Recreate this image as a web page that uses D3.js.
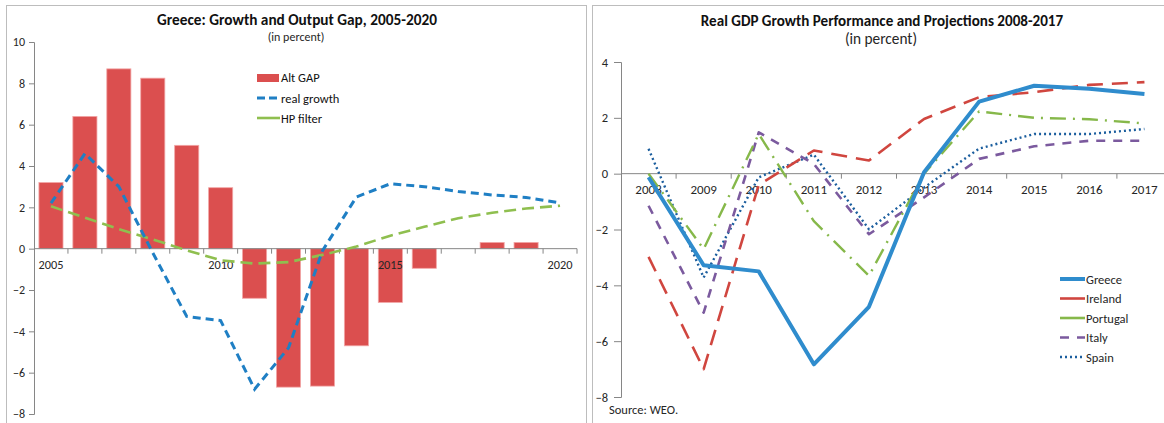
<!DOCTYPE html>
<html>
<head>
<meta charset="utf-8">
<script src="https://cdn.jsdelivr.net/npm/d3@7"></script>
<style>
  html, body { margin: 0; padding: 0; background: #fff; }
  svg { display: block; font-family: Carlito, Calibri, Lato, sans-serif; }
</style>
</head>
<body>
<svg id="chart" width="1164" height="423"></svg>
<script>
// ---------- Left chart data ----------
const yearsLeft = ["2005","2006","2007","2008","2009","2010","2011","2012","2013","2014","2015","2016","2017","2018","2019","2020"];
const altGap     = [3.2, 6.4, 8.7, 8.25, 5.0, 2.95, -2.4, -6.7, -6.65, -4.7, -2.6, -0.95, null, 0.3, 0.3, null];
const realGrowth = [2.2, 4.6, 3.0, -0.2, -3.28, -3.48, -6.8, -4.8, -0.1, 2.5, 3.14, 3.0, 2.77, 2.6, 2.48, 2.22];
const hpFilter   = [2.05, 1.5, 0.95, 0.45, -0.08, -0.56, -0.72, -0.65, -0.3, 0.1, 0.63, 1.06, 1.47, 1.74, 1.94, 2.08];
const leftXLabels = ["2005","2010","2015","2020"];
const leftYTicks = [-8,-6,-4,-2,0,2,4,6,8,10];

// ---------- Right chart data ----------
const yearsRight = ["2008","2009","2010","2011","2012","2013","2014","2015","2016","2017"];
const greece   = [-0.13, -3.28, -3.5, -6.83, -4.77, 0.05, 2.58, 3.15, 3.04, 2.85];
const ireland  = [-2.98, -7.0, -0.4, 0.83, 0.47, 1.96, 2.74, 2.92, 3.18, 3.28];
const portugal = [0.0, -2.7, 1.42, -1.7, -3.66, 0.0, 2.23, 2.0, 1.95, 1.8];
const italy    = [-1.15, -4.98, 1.48, 0.35, -2.17, -0.85, 0.53, 0.98, 1.18, 1.18];
const spain    = [0.89, -3.72, -0.13, 0.68, -1.99, -0.5, 0.9, 1.42, 1.42, 1.6];
const rightYTicks = [-8,-6,-4,-2,0,2,4];

const svg = d3.select("#chart");
const AXIS = "#868686";
const TXT = "#262626";
const FONT = "Carlito, Calibri, Lato, sans-serif";

// panel borders
svg.append("rect").attr("x", 6.5).attr("y", 5.5).attr("width", 580).attr("height", 430)
  .attr("fill", "none").attr("stroke", "#bdbdbd");
svg.append("rect").attr("x", 592.5).attr("y", 5.5).attr("width", 600).attr("height", 430)
  .attr("fill", "none").attr("stroke", "#bdbdbd");

// ================= LEFT CHART =================
{
  const g = svg.append("g");
  const x = d3.scaleBand().domain(yearsLeft).range([34, 577]).padding(0);
  const y = d3.scaleLinear().domain([-8, 10]).range([414, 42]);
  const bw = x.bandwidth();
  const barW = bw * 0.71;

  // title
  g.append("text").attr("x", 297).attr("y", 25).attr("text-anchor", "middle")
    .attr("font-weight", "bold").attr("font-size", 15.3).attr("fill", "#111")
    .text("Greece: Growth and Output Gap, 2005-2020");
  g.append("text").attr("x", 296).attr("y", 40.5).attr("text-anchor", "middle")
    .attr("font-size", 12).attr("fill", TXT).text("(in percent)");

  // bars
  const barData = yearsLeft.map((d, i) => ({ year: d, v: altGap[i] })).filter(d => d.v !== null);
  g.selectAll("rect.bar").data(barData).enter().append("rect")
    .attr("class", "bar")
    .attr("x", d => x(d.year) + (bw - barW) / 2)
    .attr("width", barW)
    .attr("y", d => y(Math.max(0, d.v)))
    .attr("height", d => Math.abs(y(d.v) - y(0)))
    .attr("fill", "#db4f4f")
    .attr("stroke", "#f2a6a6").attr("stroke-width", 0.8);

  // y axis
  const yAxis = d3.axisLeft(y).tickValues(leftYTicks).tickSize(5).tickPadding(4).tickFormat(d3.format("d"));
  const ya = g.append("g").attr("transform", "translate(34,0)").call(yAxis);
  ya.select(".domain").attr("stroke", AXIS);
  ya.selectAll(".tick line").attr("stroke", AXIS);
  ya.selectAll(".tick text").attr("font-size", 12).attr("fill", TXT).attr("font-family", FONT);

  // x axis at 0
  const xa = g.append("g").attr("transform", `translate(0,${y(0)})`);
  xa.append("line").attr("x1", 34).attr("x2", 577).attr("stroke", AXIS);
  xa.selectAll("line.tk").data(yearsLeft).enter().append("line").attr("class", "tk")
    .attr("x1", d => x(d) + bw).attr("x2", d => x(d) + bw).attr("y1", 0).attr("y2", 5)
    .attr("stroke", AXIS);
  xa.selectAll("text").data(leftXLabels).enter().append("text")
    .attr("x", d => x(d) + bw / 2).attr("y", 20).attr("text-anchor", "middle")
    .attr("font-size", 12.3).attr("fill", TXT).text(d => d);

  // lines
  const line = d3.line().x((d, i) => x(yearsLeft[i]) + bw / 2).y(d => y(d));
  g.append("path").datum(hpFilter).attr("d", line).attr("fill", "none")
    .attr("stroke", "#8fbf4f").attr("stroke-width", 2.6).attr("stroke-dasharray", "12,6");
  g.append("path").datum(realGrowth).attr("d", line).attr("fill", "none")
    .attr("stroke", "#1f7fc4").attr("stroke-width", 3).attr("stroke-dasharray", "8,5");

  // legend
  const lg = g.append("g");
  lg.append("rect").attr("x", 257).attr("y", 74).attr("width", 22).attr("height", 8).attr("fill", "#db4f4f");
  lg.append("text").attr("x", 281).attr("y", 82).attr("font-size", 12.5).attr("fill", "#111").text("Alt GAP");
  lg.append("line").attr("x1", 257).attr("x2", 280).attr("y1", 98).attr("y2", 98)
    .attr("stroke", "#1f7fc4").attr("stroke-width", 3).attr("stroke-dasharray", "8,4");
  lg.append("text").attr("x", 281).attr("y", 102.5).attr("font-size", 12.5).attr("fill", "#111").text("real growth");
  lg.append("line").attr("x1", 257).attr("x2", 280).attr("y1", 118).attr("y2", 118)
    .attr("stroke", "#8fbf4f").attr("stroke-width", 2.6);
  lg.append("text").attr("x", 281).attr("y", 122.5).attr("font-size", 12.5).attr("fill", "#111").text("HP filter");
}

// ================= RIGHT CHART =================
{
  const g = svg.append("g");
  const x = d3.scaleBand().domain(yearsRight).range([621, 1172]).padding(0);
  const bw = x.bandwidth();
  const y = d3.scaleLinear().domain([-8, 4]).range([397, 62]);

  g.append("text").attr("x", 882).attr("y", 25.5).attr("text-anchor", "middle")
    .attr("font-weight", "bold").attr("font-size", 15.1).attr("fill", "#111")
    .text("Real GDP Growth Performance and Projections 2008-2017");
  g.append("text").attr("x", 881).attr("y", 44).attr("text-anchor", "middle")
    .attr("font-size", 15.3).attr("fill", TXT).text("(in percent)");

  const yAxis = d3.axisLeft(y).tickValues(rightYTicks).tickSize(7).tickPadding(6).tickFormat(d3.format("d"));
  const ya = g.append("g").attr("transform", "translate(621,0)").call(yAxis);
  ya.select(".domain").attr("stroke", AXIS);
  ya.selectAll(".tick line").attr("stroke", AXIS);
  ya.selectAll(".tick text").attr("font-size", 12.5).attr("fill", TXT).attr("font-family", FONT);

  const xa = g.append("g").attr("transform", `translate(0,${y(0)})`);
  xa.append("line").attr("x1", 621).attr("x2", 1172).attr("stroke", AXIS);
  xa.selectAll("line.tk").data(yearsRight).enter().append("line").attr("class", "tk")
    .attr("x1", d => x(d) + bw).attr("x2", d => x(d) + bw).attr("y1", 0).attr("y2", 5)
    .attr("stroke", AXIS);
  xa.selectAll("text").data(yearsRight).enter().append("text")
    .attr("x", d => x(d) + bw / 2).attr("y", 20).attr("text-anchor", "middle")
    .attr("font-size", 13).attr("fill", TXT).text(d => d);

  const line = d3.line().x((d, i) => x(yearsRight[i]) + bw / 2).y(d => y(d));
  const series = [
    { name: "Spain",    data: spain,    color: "#1b5e9e", w: 2.4, dash: "2,3" },
    { name: "Italy",    data: italy,    color: "#7b5a9e", w: 2.6, dash: "9,8" },
    { name: "Portugal", data: portugal, color: "#86b84a", w: 2.4, dash: "16,7,2,7" },
    { name: "Ireland",  data: ireland,  color: "#d0463f", w: 2.6, dash: "16,9" },
    { name: "Greece",   data: greece,   color: "#2f8ccd", w: 4,   dash: null }
  ];
  series.forEach(s => {
    const p = g.append("path").datum(s.data).attr("d", line).attr("fill", "none")
      .attr("stroke", s.color).attr("stroke-width", s.w).attr("stroke-linejoin", "round");
    if (s.dash) p.attr("stroke-dasharray", s.dash);
  });

  // legend
  const legendOrder = ["Greece", "Ireland", "Portugal", "Italy", "Spain"];
  const legendDash = { Greece: null, Ireland: null, Portugal: null, Italy: "9,8", Spain: "2,3" };
  legendOrder.forEach((nm, i) => {
    const s = series.find(d => d.name === nm);
    const yy = 279 + i * 19.5;
    const l = g.append("line").attr("x1", 1060).attr("x2", 1085).attr("y1", yy).attr("y2", yy)
      .attr("stroke", s.color).attr("stroke-width", nm === "Greece" ? 4 : 2.6);
    if (legendDash[nm]) l.attr("stroke-dasharray", legendDash[nm]);
    g.append("text").attr("x", 1086).attr("y", yy + 4.5).attr("font-size", 12.5).attr("fill", TXT).text(nm);
  });

  g.append("text").attr("x", 609).attr("y", 414).attr("font-size", 12.5).attr("fill", TXT).text("Source: WEO.");
}
</script>
</body>
</html>
